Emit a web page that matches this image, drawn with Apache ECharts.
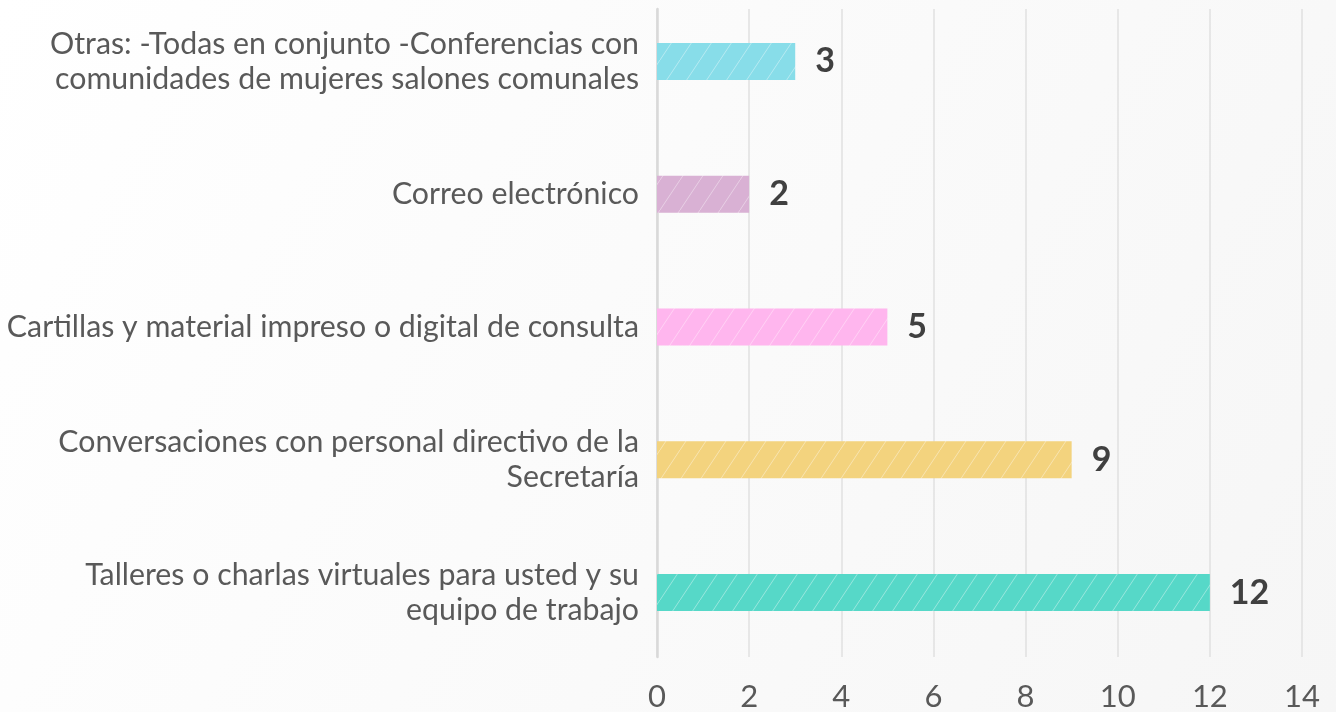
<!DOCTYPE html>
<html>
<head>
<meta charset="utf-8">
<script src="https://cdn.jsdelivr.net/npm/echarts@6/dist/echarts.min.js"></script>
<style>
  html, body { margin: 0; padding: 0; }
  #chart { width: 1336px; height: 712px; }
</style>
</head>
<body>
<div id="chart"></div>
<script>
// categories, top to bottom
const categories = [
  "Otras: -Todas en conjunto -Conferencias con\ncomunidades de mujeres salones comunales",
  "Correo electrónico",
  "Cartillas y material impreso o digital de consulta",
  "Conversaciones con personal directivo de la\nSecretaría",
  "Talleres o charlas virtuales para usted y su\nequipo de trabajo",
];
const values = [3, 2, 5, 9, 12];
const barColors = ["#88dde9", "#d9b1d4", "#ffb6ee", "#f3d37e", "#56d8c8"];

// hatch pattern: base colour with thin light diagonal lines
function hatch(color) {
  const c = document.createElement("canvas");
  c.width = 20;
  c.height = 30;
  const ctx = c.getContext("2d");
  ctx.fillStyle = color;
  ctx.fillRect(0, 0, 20, 30);
  ctx.strokeStyle = "rgba(255,255,255,0.4)";
  ctx.lineWidth = 1;
  ctx.beginPath();
  ctx.moveTo(-2, 33);
  ctx.lineTo(22, -3);
  ctx.stroke();
  return { image: c, repeat: "repeat" };
}

const myChart = echarts.init(document.getElementById("chart"));

const option = {
  backgroundColor: {
    type: "linear", x: 0, y: 0, x2: 1, y2: 1,
    colorStops: [
      { offset: 0, color: "#ffffff" },
      { offset: 1, color: "#f6f6f6" },
    ],
  },
  textStyle: { fontFamily: "Lato" },
  grid: [
    // bars
    { left: 657, right: 34, top: -5, bottom: 53, outerBoundsMode: "none", containLabel: false },
    // gridlines / x labels
    { left: 657, right: 34, top: 9, bottom: 55, outerBoundsMode: "none", containLabel: false },
  ],
  xAxis: [
    {
      gridIndex: 0, type: "value", min: 0, max: 14, interval: 2,
      show: false,
    },
    {
      gridIndex: 1, type: "value", min: 0, max: 14, interval: 2,
      axisLine: { show: false },
      axisTick: { show: false },
      axisLabel: { color: "#595959", fontSize: 31, margin: 24, fontFamily: "Lato" },
      splitLine: { lineStyle: { color: "#e0e0e0", width: 1.5 } },
    },
  ],
  yAxis: [
    {
      gridIndex: 0, type: "category", inverse: true, data: categories,
      axisLine: { show: false },
      axisTick: { show: false },
      axisLabel: {
        color: "#595959", fontSize: 30.3, lineHeight: 35, margin: 18,
        align: "right", fontFamily: "Lato",
      },
    },
    {
      gridIndex: 1, type: "value", min: 0, max: 1,
      axisLine: { show: true, lineStyle: { color: "#d9d9d9", width: 2.5 } },
      axisTick: { show: false },
      axisLabel: { show: false },
      splitLine: { show: false },
    },
  ],
  series: [
    {
      type: "bar",
      xAxisIndex: 0,
      yAxisIndex: 0,
      barWidth: 37,
      data: values.map((v, i) => ({
        value: v,
        itemStyle: { color: hatch(barColors[i]) },
      })),
      label: {
        show: true,
        position: "right",
        distance: 20,
        color: "#404040",
        fontSize: 34,
        fontWeight: "bold",
        fontFamily: "Lato",
      },
      animation: false,
    },
  ],
  animation: false,
};

myChart.setOption(option);
</script>
</body>
</html>
